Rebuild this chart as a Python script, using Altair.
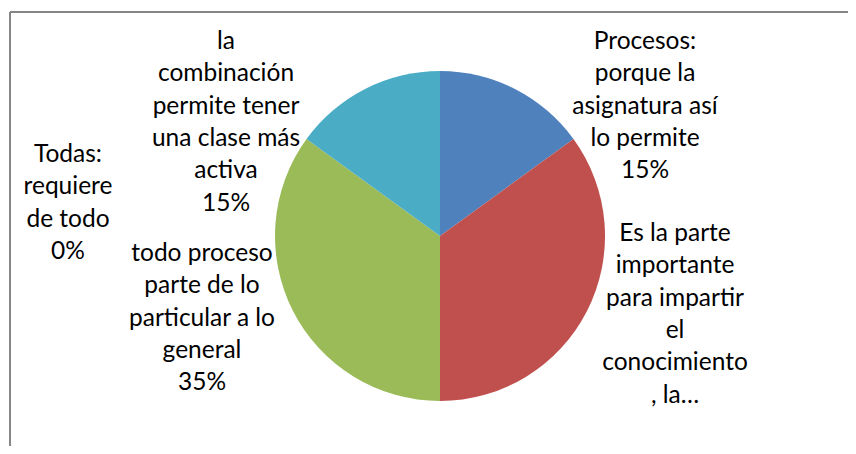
import altair as alt
import pandas as pd

categories = [
    "Procesos",
    "Es la parte",
    "todo proceso",
    "Todas",
    "la combinación",
]
values = [15, 35, 35, 0, 15]
labels = [
    "Procesos:\nporque la\nasignatura así\nlo permite\n15%",
    "Es la parte\nimportante\npara impartir\nel\nconocimiento\n, la…",
    "todo proceso\nparte de lo\nparticular a lo\ngeneral\n35%",
    "Todas:\nrequiere\nde todo\n0%",
    "la\ncombinación\npermite tener\nuna clase más\nactiva\n15%",
]
colors = ["#4F81BD", "#C0504D", "#9BBB59", "#8064A2", "#4BACC6"]

df = pd.DataFrame({
    "cat": categories,
    "value": values,
    "label": labels,
    "order": list(range(len(categories))),
})

W, H = 838, 434
CX, CY = 430, 224
R = 165
FONT = "Lato"
FS = 24.5
LH = 32.3

# first-line position of each label block relative to the pie centre (layout only)
label_offsets = {
    "Procesos": (205, -194),
    "Es la parte": (235, -2),
    "todo proceso": (-238, 18),
    "Todas": (-372, -81),
    "la combinación": (-214, -194),
}

pie = alt.Chart(df).mark_arc(radius=R).encode(
    theta=alt.Theta("value:Q", stack=True),
    order=alt.Order("order:Q"),
    color=alt.Color("cat:N", scale=alt.Scale(domain=categories, range=colors), legend=None),
    x=alt.value(CX),
    y=alt.value(CY),
)

layers = [pie]
for c in categories:
    ox, oy = label_offsets[c]
    t = alt.Chart(df).transform_filter(alt.datum.cat == c).mark_text(
        font=FONT, fontSize=FS, lineHeight=LH, lineBreak="\n",
        align="center", baseline="middle", color="#000000",
    ).encode(
        text="label:N",
        x=alt.value(CX + ox),
        y=alt.value(CY + oy),
    )
    layers.append(t)

frame_top = alt.Chart(df).mark_rule(color="#868686", strokeWidth=1.5).encode(
    x=alt.value(0), x2=alt.value(W + 20), y=alt.value(0)
)
frame_left = alt.Chart(df).mark_rule(color="#868686", strokeWidth=1.5).encode(
    x=alt.value(0), y=alt.value(0), y2=alt.value(H + 20)
)

chart = alt.layer(*layers, frame_top, frame_left).properties(
    width=W, height=H,
    padding={"left": 2, "top": 4, "right": 0, "bottom": 0},
    autosize=alt.AutoSizeParams(type="none"),
).configure(background="white").configure_view(stroke=None)

chart.save("out.html", embed_options={"renderer": "svg", "actions": False})
